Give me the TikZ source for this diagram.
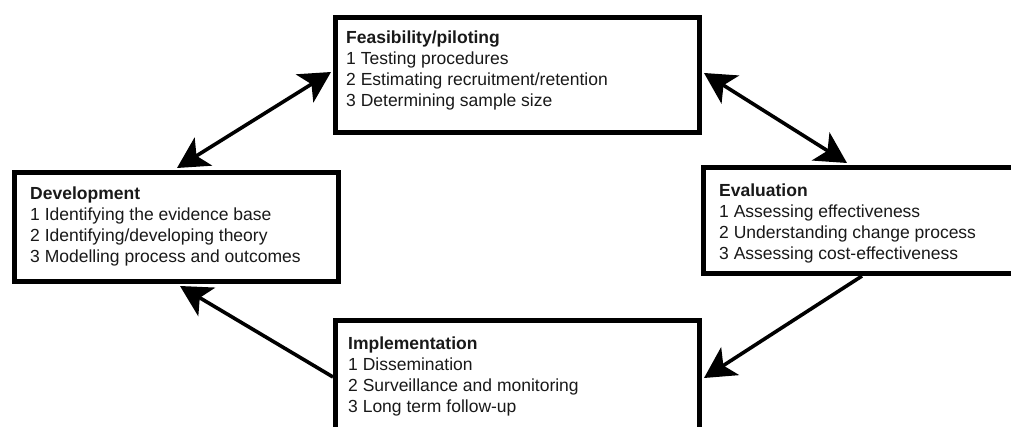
\documentclass[tikz,border=0pt]{standalone}
\usepackage{fontspec}
\setmainfont{Liberation Sans}
\usetikzlibrary{arrows.meta,calc}
\tikzset{
  stagebox/.style={draw=black, line width=5pt, fill=white, rectangle, inner sep=0pt, anchor=north west},
  stagetext/.style={anchor=north west, inner sep=0pt, align=left, font=\fontsize{17.5}{20.8}\selectfont, text=black!90},
  cyc/.style={line width=3.6pt, black},
  bigtip/.tip={Stealth[length=31pt,width=33pt,inset=8pt]},
}
\begin{document}
\begin{tikzpicture}[x=1pt,y=-1pt]
\useasboundingbox (0,0) rectangle (1011,427);
\clip (0,0) rectangle (1011,427);
\fill[white] (0,0) rectangle (1011,427);
% boxes
\node[stagebox, minimum width=364pt, minimum height=115pt] (feas) at (333,15) {};
\node[stagebox, minimum width=324pt, minimum height=109pt] (dev) at (12,170) {};
\node[stagebox, minimum width=330pt, minimum height=106pt] (eval) at (701,165) {};
\node[stagebox, minimum width=364pt, minimum height=130pt] (impl) at (333,318) {};
% texts
\node[stagetext] (feast) at ([shift={(13pt,-16pt)}]feas.north west)
  {\textbf{Feasibility/piloting}\\1 Testing procedures\\2 Estimating recruitment/retention\\3 Determining sample size};
\node[stagetext] (devt) at ([shift={(18pt,-17pt)}]dev.north west)
  {\textbf{Development}\\1 Identifying the evidence base\\2 Identifying/developing theory\\3 Modelling process and outcomes};
\node[stagetext] (evalt) at ([shift={(18pt,-19pt)}]eval.north west)
  {\textbf{Evaluation}\\1 Assessing effectiveness\\2 Understanding change process\\3 Assessing cost-effectiveness};
\node[stagetext] (implt) at ([shift={(15pt,-19pt)}]impl.north west)
  {\textbf{Implementation}\\1 Dissemination\\2 Surveillance and monitoring\\3 Long term follow-up};
% connectors
\draw[cyc, bigtip-bigtip] ([shift={(165pt,2pt)}]dev.north west) -- ([shift={(-2pt,-57pt)}]feas.north west);
\draw[cyc, bigtip-bigtip] ([shift={(2pt,-58pt)}]feas.north east) -- ([shift={(146pt,2pt)}]eval.north west);
\draw[cyc, -bigtip] ([shift={(161pt,0pt)}]eval.south west) -- ([shift={(2pt,-60pt)}]impl.north east);
\draw[cyc, -bigtip] ([shift={(0pt,-59pt)}]impl.north west) -- ([shift={(168pt,-2pt)}]dev.south west);
\end{tikzpicture}
\end{document}
